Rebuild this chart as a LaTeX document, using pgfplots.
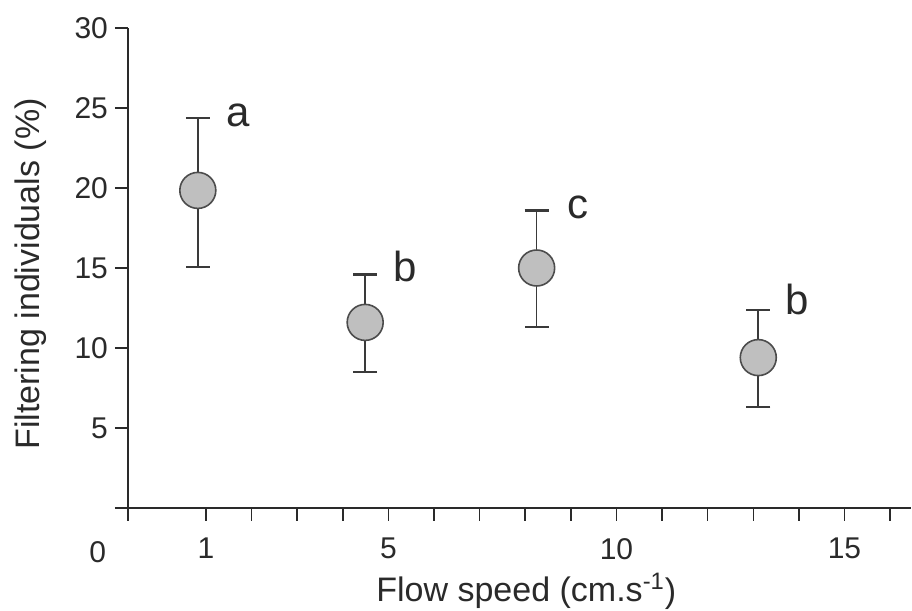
\documentclass[border=0pt]{standalone}
\usepackage{fontspec}
\setmainfont{Liberation Sans}
\usepackage{pgfplots}
\pgfplotsset{compat=1.18}
\definecolor{axisgray}{HTML}{2A2A2A}
\definecolor{barcol}{HTML}{3A3A3A}
\begin{document}
\begin{tikzpicture}
\begin{axis}[
    scale only axis,
    width=391.3pt, height=240pt,
    xmin=-0.711, xmax=16.45,
    ymin=0, ymax=30,
    axis x line=bottom, axis y line=left,
    axis line style={-, line width=0.75pt, axisgray},
    tick style={line width=0.75pt, axisgray},
    tick align=outside,
    xtick={-0.711,1,2,...,16},
    xticklabels={,1,,,,5,,,,,10,,,,,15,},
    ytick={0,5,10,...,30},
    yticklabels={,5,10,15,20,25,30},
    major tick length=6.5pt,
    /pgf/number format/assume math mode=true,
    tick label style={font=\fontsize{15}{18}\selectfont, text=axisgray},
    xticklabel style={yshift=-5pt},
    xlabel={Flow speed (cm.s\textsuperscript{-1})},
    ylabel={Filtering individuals (\%)},
    label style={font=\fontsize{17}{20}\selectfont, text=axisgray},
    xlabel style={anchor=base, at={([xshift=3.5pt,yshift=-47pt]axis description cs:0.5,0)}},
    ylabel style={anchor=base, at={([xshift=-44pt,yshift=-3pt]axis description cs:0,0.5)}},
    clip=false,
]
\addplot[only marks, mark=*, mark size=9pt,
    mark options={fill=gray!50, draw=black!70, line width=0.8pt},
    error bars/.cd, y dir=both, y explicit,
    error bar style={line width=0.8pt, barcol},
    error mark options={rotate=90, mark size=6pt, line width=1.1pt, draw=barcol}]
coordinates {
    (0.82,19.85)  += (0,4.55) -= (0,4.8)
    (4.49,11.6)   += (0,3.0)  -= (0,3.1)
    (8.25,15.0)   += (0,3.6)  -= (0,3.7)
    (13.11,9.4)   += (0,3.0)  -= (0,3.1)
};
\node[font=\fontsize{21}{24}\selectfont, text=axisgray] at (axis cs:1.71,24.56) {a};
\node[font=\fontsize{21}{24}\selectfont, text=axisgray] at (axis cs:5.36,15.1) {b};
\node[font=\fontsize{21}{24}\selectfont, text=axisgray] at (axis cs:9.16,18.8) {c};
\node[font=\fontsize{21}{24}\selectfont, text=axisgray] at (axis cs:13.96,13.06) {b};
\node[font=\fontsize{15}{18}\selectfont, text=axisgray] at ([xshift=-15.2pt,yshift=-21.9pt]axis cs:-0.711,0) {0};
\coordinate (O) at (axis cs:-0.711,0);
\end{axis}
\pgfresetboundingbox
\path[use as bounding box] ([shift={(-64pt,-51.5pt)}]O) rectangle ([shift={(392pt,254pt)}]O);
\end{tikzpicture}
\end{document}
